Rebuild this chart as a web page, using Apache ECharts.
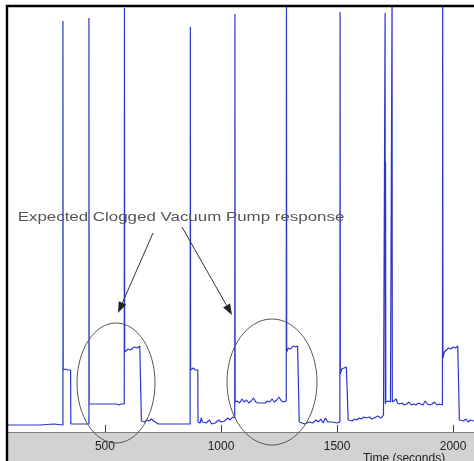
<!DOCTYPE html>
<html>
<head>
<meta charset="utf-8">
<script src="https://cdn.jsdelivr.net/npm/echarts@6/dist/echarts.min.js"></script>
<style>
  html, body { margin: 0; padding: 0; background: #fff; }
  #main { width: 474px; height: 461px; }
</style>
</head>
<body>
<div id="main"></div>
<script>
// trace: time in seconds, level in arbitrary units
const timeSec = [
  78, 150, 220, 280, 319, 319, 320, 330, 340, 352, 353, 400, 431,
  431, 432, 470, 520, 550, 560, 565, 570, 583,
  584, 585, 590, 600, 610, 620, 630, 640, 650, 656,
  657, 665, 670, 680, 690, 700, 710, 730, 780, 830, 867,
  868, 869, 880, 890, 900,
  901, 910, 915, 920, 935, 950, 960, 975, 990, 1000, 1015, 1030, 1040, 1050, 1059,
  1060, 1061, 1070, 1080, 1090, 1100, 1110, 1120, 1130, 1140, 1150, 1160, 1170, 1190,
  1200, 1210, 1220, 1230, 1240, 1250, 1260, 1270, 1281,
  1282, 1283, 1290, 1300, 1310, 1320, 1330, 1335, 1336,
  1337, 1345, 1360, 1380, 1395, 1410, 1420, 1430, 1440, 1450, 1460, 1480, 1500, 1512,
  1513, 1514, 1520, 1530, 1540, 1546,
  1547, 1548, 1555, 1565, 1575, 1585, 1595, 1605, 1615, 1625, 1640, 1650, 1660, 1675, 1690, 1700, 1706,
  1707, 1708, 1709, 1710, 1720, 1730, 1736,
  1737, 1738, 1745, 1755, 1760, 1770, 1780, 1790, 1800, 1810, 1820, 1830, 1840, 1850,
  1860, 1870, 1880, 1890, 1900, 1910, 1920, 1930, 1940, 1954,
  1955, 1956, 1962, 1970, 1980, 1990, 2000, 2010, 2020, 2025,
  2026, 2027, 2035, 2045, 2055, 2065, 2075, 2090
];
const level = [
  7, 7, 7, 8, 7, 411, 62, 63, 62, 62, 8, 8, 8,
  414, 28, 28, 28, 28, 27, 25, 28, 28,
  424, 80, 82, 83, 82, 84, 85, 84, 86, 85,
  11, 13, 10, 12, 11, 13, 11, 8, 8, 8, 8,
  405, 62, 64, 62, 62,
  10, 9, 14, 10, 9, 12, 8, 9, 12, 10, 11, 14, 12, 15, 14,
  418, 30, 31, 29, 33, 30, 32, 29, 31, 34, 30, 29, 29, 29,
  31, 30, 33, 30, 32, 35, 31, 30, 31,
  440, 80, 84, 83, 86, 85, 86, 88, 85,
  10, 11, 8, 10, 9, 12, 10, 13, 9, 14, 10, 10, 9, 10,
  420, 58, 63, 64, 65, 66,
  63, 12, 13, 11, 13, 12, 14, 13, 15, 14, 15, 13, 14, 16, 14, 17, 15,
  419, 28, 270, 30, 31, 30, 31,
  440, 30, 30, 33, 29, 28, 29, 27, 28, 30, 27, 28, 27, 29,
  28, 27, 31, 28, 27, 28, 30, 27, 28, 27,
  440, 74, 80, 82, 84, 83, 85, 84, 86, 85,
  84, 12, 14, 11, 13, 10, 12, 11
];
const xTicks = [500, 1000, 1500, 2000];
const xRange = [78, 2090];
const yRange = [0, 426];
const noteText = "Expected Clogged Vacuum Pump response";
const axisTitle = "Time (seconds)";

const chart = echarts.init(document.getElementById("main"));

function arrow(x1, y1, x2, y2) {
  const len = Math.hypot(x2 - x1, y2 - y1);
  const dx = (x2 - x1) / len, dy = (y2 - y1) / len;
  const hx = x2 - dx * 11, hy = y2 - dy * 11;
  return [
    {
      type: "line", z: 20,
      shape: { x1: x1, y1: y1, x2: hx, y2: hy },
      style: { stroke: "#333", lineWidth: 1 },
    },
    {
      type: "polygon", z: 20,
      shape: {
        points: [
          [x2, y2],
          [hx - dy * 4, hy + dx * 4],
          [hx + dy * 4, hy - dx * 4],
        ],
      },
      style: { fill: "#222" },
    },
  ];
}

chart.setOption({
  animation: false,
  backgroundColor: "#fff",
  grid: {
    left: 7,
    right: 0,
    top: 6,
    bottom: 29,
    show: true,
    backgroundColor: "#fff",
    borderWidth: 0,
  },
  xAxis: {
    type: "value",
    min: xRange[0],
    max: xRange[1],
    axisLine: { show: true, lineStyle: { color: "#808080", width: 1 } },
    axisTick: {
      show: true,
      inside: true,
      length: 7,
      customValues: xTicks,
      lineStyle: { color: "#444" },
    },
    axisLabel: {
      customValues: xTicks,
      formatter: (v) => String(v),
      margin: 9,
      color: "#222",
      fontSize: 12,
      fontFamily: "Liberation Sans",
    },
    splitLine: { show: false },
  },
  yAxis: {
    type: "value",
    min: yRange[0],
    max: yRange[1],
    show: false,
  },
  series: [
    {
      type: "line",
      data: timeSec.map((t, i) => [t, level[i]]),
      symbol: "none",
      clip: true,
      lineStyle: { color: "#2a35cc", width: 1.2 },
    },
  ],
  graphic: [
    {
      type: "rect", z: -1,
      shape: { x: 7, y: 432, width: 467, height: 29 },
      style: { fill: "#d2d2d2" },
    },
    {
      type: "line", z: 30,
      shape: { x1: 7, y1: 5, x2: 7, y2: 461 },
      style: { stroke: "#000", lineWidth: 2.4 },
    },
    {
      type: "line", z: 30,
      shape: { x1: 6, y1: 6, x2: 474, y2: 6 },
      style: { stroke: "#000", lineWidth: 2.4 },
    },
    {
      type: "ellipse", z: 20,
      shape: { cx: 116, cy: 383, rx: 39, ry: 60 },
      style: { fill: null, stroke: "#555", lineWidth: 1 },
    },
    {
      type: "ellipse", z: 20,
      shape: { cx: 272, cy: 382, rx: 45, ry: 63 },
      style: { fill: null, stroke: "#555", lineWidth: 1 },
    },
    ...arrow(153, 233, 118, 313),
    ...arrow(182, 227, 232, 315),
    {
      type: "text", z: 25,
      x: 181, y: 217,
      scaleX: 1.3,
      style: {
        text: noteText,
        fill: "#555",
        font: "13px 'Liberation Sans'",
        align: "center",
        verticalAlign: "middle",
      },
    },
    {
      type: "text", z: 25,
      x: 404, y: 453,
      style: {
        text: axisTitle,
        fill: "#222",
        font: "12px 'Liberation Sans'",
        align: "center",
        verticalAlign: "top",
      },
    },
  ],
});
</script>
</body>
</html>
